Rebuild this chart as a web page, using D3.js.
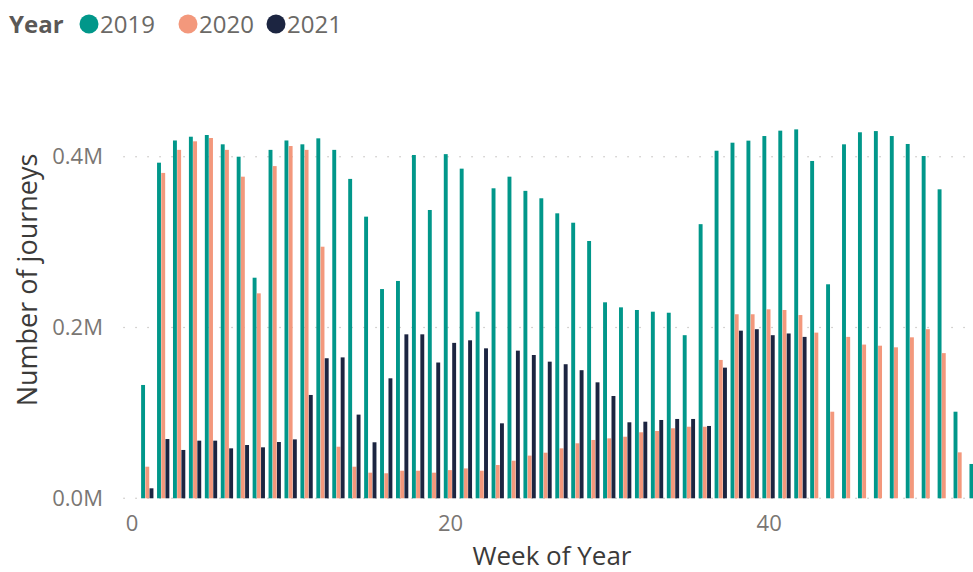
<!DOCTYPE html>
<html>
<head>
<meta charset="utf-8">
<script src="https://cdn.jsdelivr.net/npm/d3@7/dist/d3.min.js"></script>
<style>
  html, body { margin: 0; padding: 0; background: #ffffff; }
  svg { display: block; font-family: "Segoe UI", "Open Sans", "Noto Sans", sans-serif; }
</style>
</head>
<body>
<svg id="chart" width="973" height="572"></svg>
<script>
// Weekly journey counts (in journeys) by year
const weeks = d3.range(1, 54);
const years = ["2019", "2020", "2021"];
const journeys2019 = [
  132700, 393000, 419000, 423400, 425400, 414500, 400000, 258300, 408000, 419000,
  414500, 421500, 408000, 374000, 329800, 245000, 254500, 402000, 337600, 403000,
  386000, 218500, 363000, 376600, 360000, 351300, 333700, 322700, 301300, 229500,
  223600, 220500, 218500, 217300, 191000, 321000, 407000, 416400, 418800, 424200,
  430500, 432000, 395000, 250600, 414500, 428600, 430000, 424200, 414900, 400800,
  361800, 101400, 40200
];
const journeys2020 = [
  37000, 381000, 408000, 418000, 421900, 408000, 376600, 240000, 389000, 412500,
  408000, 294600, 60400, 37000, 30000, 29300, 32300, 32300, 30000, 33000,
  35000, 32300, 39000, 44000, 50000, 53400, 58500, 64400, 68300, 70200,
  72100, 77300, 78800, 82000, 83800, 83800, 162000, 215500, 215500, 221300,
  220500, 214600, 194000, 101400, 189000, 180000, 178700, 176800, 188500, 198000,
  170000, 53800, null
];
const journeys2021 = [
  11700, 69400, 56600, 67500, 67500, 58500, 62400, 59700, 65900, 69000,
  121000, 164000, 165000, 98000, 65600, 140500, 192000, 192000, 159000, 182000,
  185000, 175600, 87800, 172900, 167800, 160000, 157000, 150000, 135800, 119800,
  89000, 89700, 91700, 92900, 92900, 84700, 153000, 196300, 198000, 191000,
  193000, 189000, null, null, null, null, null, null, null, null,
  null, null, null
];
const yTicks = [0, 200000, 400000];
const xTicks = [0, 20, 40];
const colors = ["#01978A", "#F3987C", "#1C2541"];

const series = [journeys2019, journeys2020, journeys2021];
const svg = d3.select("#chart");
const fontStack = "\"Segoe UI\", \"Open Sans\", sans-serif";

const x = d3.scaleLinear().domain([0, 53.3]).range([131.5, 131.5 + 53.3 * 15.93]);
const y = d3.scaleLinear().domain([0, 400000]).range([498.3, 156.7]);

const step = x(1) - x(0);
const barW = step * 0.264;

// Dotted horizontal gridlines
svg.append("g")
  .selectAll("line")
  .data(yTicks)
  .join("line")
  .attr("x1", 124)
  .attr("x2", 972)
  .attr("y1", d => y(d))
  .attr("y2", d => y(d))
  .attr("stroke", "#C8C6C4")
  .attr("stroke-width", 1.6)
  .attr("stroke-linecap", "round")
  .attr("stroke-dasharray", "0.1,11.9");

// Grouped bars, one group per week
const groups = svg.append("g")
  .selectAll("g")
  .data(series)
  .join("g")
  .attr("fill", (d, i) => colors[i]);

groups.selectAll("rect")
  .data((vals, si) => weeks.map((w, wi) => ({ week: w, value: vals[wi], si })).filter(d => d.value != null))
  .join("rect")
  .attr("x", d => x(d.week) - 1.5 * barW + d.si * barW)
  .attr("width", barW - 0.3)
  .attr("y", d => y(d.value))
  .attr("height", d => y(0) - y(d.value));

// Y axis
const fmtM = d => (d / 1e6).toFixed(1) + "M";
const yAxis = svg.append("g")
  .attr("transform", "translate(103,0)")
  .call(d3.axisLeft(y).tickValues(yTicks).tickFormat(fmtM).tickSize(0).tickPadding(0));
yAxis.select(".domain").remove();
yAxis.selectAll("text")
  .attr("fill", "#7A7673")
  .attr("font-size", 22)
  .attr("font-family", fontStack);

// X axis
const xAxis = svg.append("g")
  .attr("transform", "translate(0,515)")
  .call(d3.axisBottom(x).tickValues(xTicks).tickFormat(d3.format("d")).tickSize(0).tickPadding(0));
xAxis.select(".domain").remove();
xAxis.selectAll("text")
  .attr("fill", "#7A7673")
  .attr("font-size", 22)
  .attr("font-family", fontStack);

// Axis titles
svg.append("text")
  .attr("x", 552)
  .attr("y", 565)
  .attr("text-anchor", "middle")
  .attr("font-size", 26)
  .attr("fill", "#3B3A39")
  .text("Week of Year");

svg.append("text")
  .attr("transform", "translate(36.5,280) rotate(-90)")
  .attr("text-anchor", "middle")
  .attr("font-size", 27)
  .attr("fill", "#3B3A39")
  .text("Number of journeys");

// Legend
const legend = svg.append("g");
legend.append("text")
  .attr("x", 9)
  .attr("y", 33)
  .attr("font-size", 24)
  .attr("font-weight", "bold")
  .attr("fill", "#5A5856")
  .text("Year");

const legendX = [89, 188, 276];
years.forEach((yr, i) => {
  legend.append("circle")
    .attr("cx", legendX[i])
    .attr("cy", 24)
    .attr("r", 9.5)
    .attr("fill", colors[i]);
  legend.append("text")
    .attr("x", legendX[i] + 11)
    .attr("y", 33)
    .attr("font-size", 24)
    .attr("fill", "#6B6966")
    .text(yr);
});
</script>
</body>
</html>
